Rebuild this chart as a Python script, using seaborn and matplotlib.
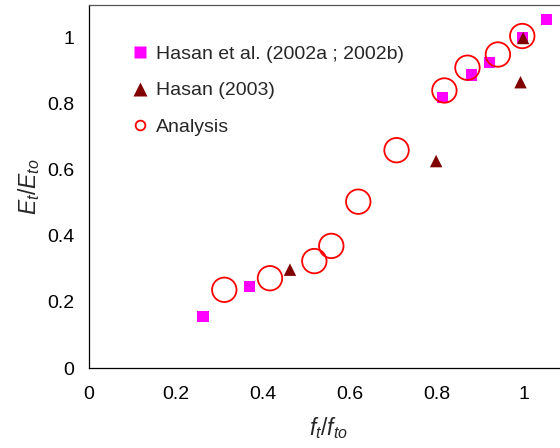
import matplotlib
matplotlib.use("Agg")
import matplotlib.pyplot as plt
from matplotlib.lines import Line2D
import seaborn as sns
import pandas as pd

# Measured data: Hasan et al. (2002a; 2002b)
hasan02_ft = [0.262, 0.368, 0.813, 0.879, 0.920, 0.997, 1.051]
hasan02_Et = [0.155, 0.248, 0.819, 0.888, 0.927, 1.002, 1.055]

# Measured data: Hasan (2003)
hasan03_ft = [0.462, 0.798, 0.992, 0.998]
hasan03_Et = [0.298, 0.627, 0.866, 1.000]

# Analysis results
analysis_ft = [0.311, 0.416, 0.518, 0.557, 0.619, 0.707, 0.817, 0.870, 0.940, 0.996]
analysis_Et = [0.237, 0.272, 0.324, 0.370, 0.504, 0.660, 0.841, 0.910, 0.950, 1.006]

xticks = [0, 0.2, 0.4, 0.6, 0.8, 1]
yticks = [0, 0.2, 0.4, 0.6, 0.8, 1]
xtick_labels = ["0", "0.2", "0.4", "0.6", "0.8", "1"]
ytick_labels = ["0", "0.2", "0.4", "0.6", "0.8", "1"]

sns.set_style("white")
plt.rcParams["font.family"] = ["Liberation Sans", "DejaVu Sans"]
plt.rcParams["mathtext.fontset"] = "custom"
plt.rcParams["mathtext.rm"] = "Liberation Sans"
plt.rcParams["mathtext.it"] = "Liberation Sans:italic"

fig = plt.figure(figsize=(5.6, 4.48), dpi=100)
ax = fig.add_axes([89 / 560, 80 / 448, 478.5 / 560, 363 / 448])

df02 = pd.DataFrame({"ft": hasan02_ft, "Et": hasan02_Et})
df03 = pd.DataFrame({"ft": hasan03_ft, "Et": hasan03_Et})
dfa = pd.DataFrame({"ft": analysis_ft, "Et": analysis_Et})

sns.scatterplot(data=df02, x="ft", y="Et", ax=ax, marker="s", s=64,
                color="#FF00FF", edgecolor="none", linewidth=0, zorder=3)
sns.scatterplot(data=df03, x="ft", y="Et", ax=ax, marker="^", s=80,
                color="#800000", edgecolor="none", linewidth=0, zorder=4)
sns.scatterplot(data=dfa, x="ft", y="Et", ax=ax, marker="o", s=310,
                facecolor="none", edgecolor="#FF0000", linewidth=1.3, zorder=5)

ax.set_xlim(0, 1.1)
ax.set_ylim(0, 1.1)
ax.set_xticks(xticks)
ax.set_xticklabels(xtick_labels)
ax.set_yticks(yticks)
ax.set_yticklabels(ytick_labels)
ax.tick_params(axis="both", direction="out", length=4, width=0.8,
               color="black", labelsize=14, labelcolor="black")
ax.tick_params(axis="x", pad=9)
ax.tick_params(axis="y", pad=6.5)

for side in ["left", "bottom"]:
    ax.spines[side].set_color("black")
    ax.spines[side].set_linewidth(0.9)
ax.spines["top"].set_color("#555555")
ax.spines["top"].set_linewidth(0.9)
ax.spines["right"].set_visible(False)

ax.set_xlabel(r"$f_t/f_{to}$", fontsize=16.5, labelpad=9)
ax.set_ylabel(r"$E_t/E_{to}$", fontsize=16.5, labelpad=4)

handles = [
    Line2D([], [], marker="s", linestyle="none", markersize=8.5,
           markerfacecolor="#FF00FF", markeredgecolor="none"),
    Line2D([], [], marker="^", linestyle="none", markersize=9.5,
           markerfacecolor="#800000", markeredgecolor="none"),
    Line2D([], [], marker="o", linestyle="none", markersize=7,
           markerfacecolor="none", markeredgecolor="#FF0000", markeredgewidth=1.3),
]
labels = ["Hasan et al. (2002a ; 2002b)", "Hasan (2003)", "Analysis"]
ax.legend(handles, labels, loc="upper left", bbox_to_anchor=(0.0903, 0.889),
          frameon=False, fontsize=14, handlelength=0.8, handletextpad=0.4,
          labelspacing=0.97, borderpad=0, borderaxespad=0)

fig.savefig("out.png", dpi=100)
